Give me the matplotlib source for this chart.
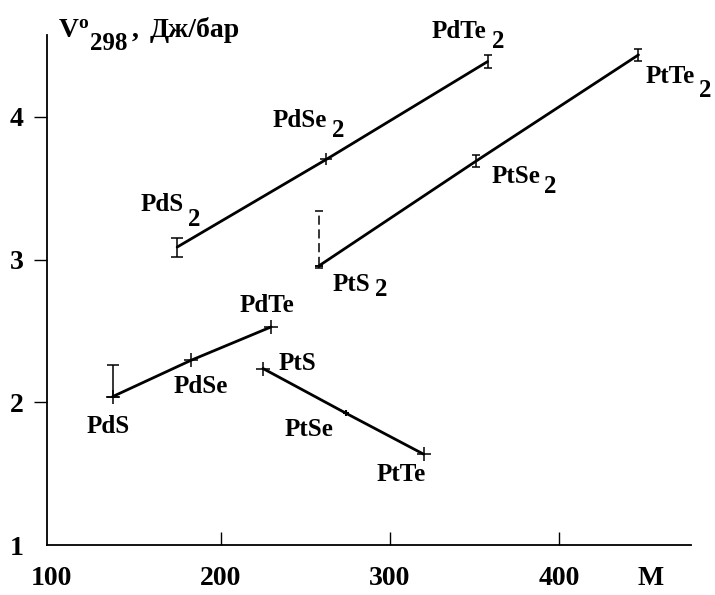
import numpy as np
import matplotlib.pyplot as plt

plt.rcParams['font.family'] = ['Liberation Serif', 'DejaVu Serif']
plt.rcParams['font.weight'] = 'bold'

# monochalcogenides: molar mass M and V298
pd_mono = ['PdS', 'PdSe', 'PdTe']
pd_mono_m = [135.9, 182.4, 229.6]
pd_mono_v = [2.04, 2.295, 2.528]
pt_mono = ['PtS', 'PtSe', 'PtTe']
pt_mono_m = [224.9, 274.1, 319.9]
pt_mono_v = [2.237, 1.923, 1.637]

# dichalcogenides (the index 2 is written as a separate label)
pd_di = ['PdS', 'PdSe', 'PdTe']
pd_di_m = [174.1, 262.3, 357.8]
pd_di_v = [3.088, 3.702, 4.388]
pd_di_err = [0.066, 0.0, 0.043]
pt_di = ['PtS', 'PtSe', 'PtTe']
pt_di_m = [258.2, 350.9, 447.1]
pt_di_v = [2.958, 3.69, 4.435]
pt_di_err = [0.02, 0.04, 0.04]

pds_upper = 0.22    # upper bound for PdS
pts2_upper = 0.38   # upper bound for PtS2 (dashed)

# label offsets in pixels: (dx, dy) for the formula, (gap, drop) for the "2"
pd_mono_off = [(-26, -36), (-18, -33), (-31, 15)]
pt_mono_off = [(16, -1), (-62, -23), (-47, -27)]
pd_di_off = [(-37, 36), (-54, 32), (-56, 24)]
pd_di_sub = [(5, 15), (5, 10), (6, 10)]
pt_di_off = [(13, -25), (16, -22), (7, -28)]
pt_di_sub = [(5, 5), (3, 10), (4, 14)]

fig = plt.figure(figsize=(7.15, 5.95), dpi=100)
ax = fig.add_axes([0.0653, 0.084, 0.9007, 0.8571])
ax.set_xlim(96.9, 478)
ax.set_ylim(1.016, 4.574)

for m, v in [(pd_mono_m, pd_mono_v), (pt_mono_m, pt_mono_v),
             (pd_di_m, pd_di_v), (pt_di_m, pt_di_v)]:
    ax.plot(m, v, color='black', lw=2.0, solid_capstyle='round', zorder=3)

# point markers
ax.plot(pd_mono_m, pd_mono_v, '+', color='k', ms=10, mew=1.1, zorder=4)
ax.plot([pt_mono_m[0], pt_mono_m[2]], [pt_mono_v[0], pt_mono_v[2]], '+',
        color='k', ms=10, mew=1.1, zorder=4)
ax.plot(pt_mono_m[1], pt_mono_v[1], '+', color='k', ms=5, mew=1.5, zorder=4)
ax.plot(pd_di_m[1], pd_di_v[1], '+', color='k', ms=9, mew=1.1, zorder=4)

# error bars
ebkw = dict(fmt='none', ecolor='k', elinewidth=1.1, capthick=1.1, zorder=4)
ax.errorbar(pd_di_m[0], pd_di_v[0], yerr=pd_di_err[0], capsize=4.5, **ebkw)
ax.errorbar(pd_di_m[2], pd_di_v[2], yerr=pd_di_err[2], capsize=3, **ebkw)
ax.errorbar(pt_di_m[1:], pt_di_v[1:], yerr=pt_di_err[1:], capsize=3, **ebkw)
ax.errorbar(pt_di_m[0], pt_di_v[0], yerr=[[pt_di_err[0]], [0]], capsize=3, **ebkw)
eb = ax.errorbar(pt_di_m[0], pt_di_v[0], yerr=[[0], [pts2_upper]], capsize=3, **ebkw)
eb[2][0].set_linestyle((0, (6, 3)))
ax.errorbar(pd_mono_m[0], pd_mono_v[0], yerr=[[0], [pds_upper]], capsize=4.5, **ebkw)


def label(x, y, name, off, sub=None):
    t = ax.annotate(name, (x, y), xytext=off, textcoords='offset pixels',
                    fontsize=18, ha='left', va='baseline')
    if sub is not None:
        ax.annotate('2', xy=(1, 0), xycoords=t, xytext=(sub[0], -sub[1]),
                    textcoords='offset pixels', fontsize=18,
                    ha='left', va='bottom')


for i in range(3):
    label(pd_mono_m[i], pd_mono_v[i], pd_mono[i], pd_mono_off[i])
    label(pt_mono_m[i], pt_mono_v[i], pt_mono[i], pt_mono_off[i])
    label(pd_di_m[i], pd_di_v[i], pd_di[i], pd_di_off[i], pd_di_sub[i])
    label(pt_di_m[i], pt_di_v[i], pt_di[i], pt_di_off[i], pt_di_sub[i])

# axes
for s in ['top', 'right']:
    ax.spines[s].set_visible(False)
for s in ['left', 'bottom']:
    ax.spines[s].set_linewidth(1.3)

ax.set_xticks([100, 200, 300, 400, 454])
ax.set_xticklabels(['100', '200', '300', '400', 'M'])
ax.tick_params(axis='x', direction='in', length=9.4, width=1.0, pad=15,
               labelsize=20)
ax.set_yticks([1, 2, 3, 4])
ax.tick_params(axis='y', direction='out', length=9.4, width=1.0, pad=7,
               labelsize=20)
xt = ax.xaxis.get_major_ticks()
xt[0].tick1line.set_visible(False)
xt[4].tick1line.set_visible(False)
ax.yaxis.get_major_ticks()[0].tick1line.set_visible(False)

# axis title V°298, Дж/бар
W, H = 715, 595
fig.text(59 / W, 1 - 37 / H, 'V', fontsize=20, va='baseline')
fig.text(78 / W, 1 - 28 / H, 'o', fontsize=14, va='baseline')
fig.text(90 / W, 1 - 50 / H, '298', fontsize=18, va='baseline')
fig.text(132 / W, 1 - 37 / H, ',', fontsize=20, va='baseline')
fig.text(150 / W, 1 - 37 / H, 'Дж/бар', fontsize=20, va='baseline')

fig.savefig('out.png', dpi=100, facecolor='white')
